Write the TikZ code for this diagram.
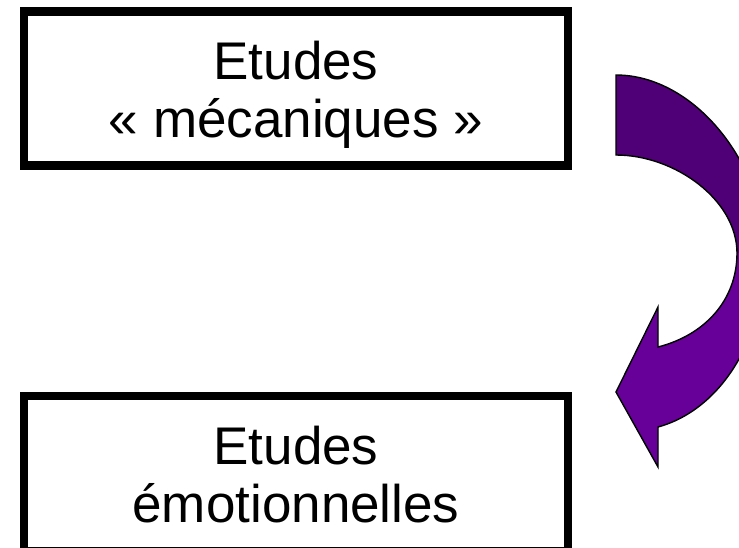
\documentclass[tikz,border=0pt]{standalone}
\usepackage{fontspec}
\setmainfont{Liberation Sans}
\definecolor{arrowdark}{RGB}{80,0,118}
\definecolor{arrowlight}{RGB}{102,0,153}
\begin{document}
\begin{tikzpicture}[x=1pt,y=1pt,
  studybox/.style={draw=black, line width=8.5pt, rectangle, inner sep=0pt,
    minimum width=544pt, minimum height=154pt},
  studytext/.style={align=center, inner sep=0pt,
    font=\fontsize{53}{58}\selectfont},
  bendarrow/.style={draw=black, line width=1.4pt, line join=miter}]
  \useasboundingbox (0,0) rectangle (739,-547);
  \clip (0,0) rectangle (739,-547);

  % the two boxes
  \node[studybox] (mech) at (296,-88.5) {};
  \node[studybox, minimum height=155pt] (emo) at (296,-473.5) {};
  \node[studytext] (mechtxt) at (296,-95) {Etudes\\« mécaniques »};
  \node[studytext] (emotxt) at (296,-475) {Etudes\\émotionnelles};

  % outline of the curved arrow
  \def\arrowpath{(616,-75) .. controls (695,-75) and (765,-165) .. (765,-253)
    .. controls (765,-340) and (720,-410) .. (658,-427)
    -- (658,-467) -- (616,-392) -- (658,-307) -- (658,-347)
    .. controls (705,-335) and (737,-300) .. (737,-253)
    .. controls (737,-200) and (675,-155) .. (616,-155) -- cycle}

  % upper half darker, lower half lighter
  \begin{scope}
    \clip (600,-60) rectangle (800,-253);
    \fill[arrowdark] \arrowpath;
  \end{scope}
  \begin{scope}
    \clip (600,-253) rectangle (800,-480);
    \fill[arrowlight] \arrowpath;
  \end{scope}
  \draw[bendarrow] \arrowpath;
\end{tikzpicture}
\end{document}
